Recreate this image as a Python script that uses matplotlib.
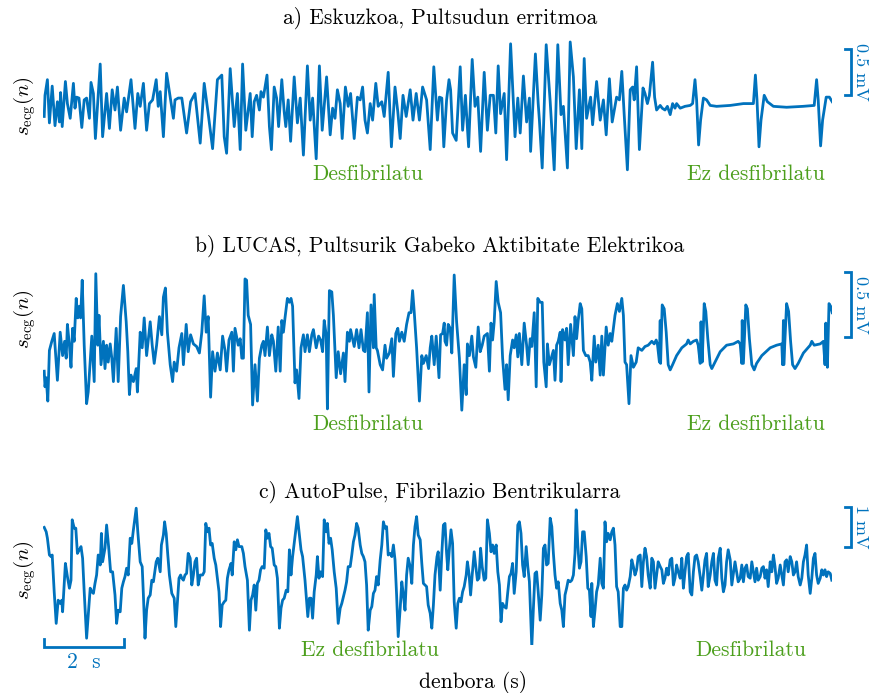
import matplotlib
matplotlib.use("Agg")
import matplotlib.pyplot as plt

# ---- data: time (s) and amplitude (mV) ----
ta = [0.03, 0.05, 0.11, 0.16, 0.23, 0.30, 0.36, 0.41, 0.44, 0.48, 0.56, 0.61, 0.68, 0.76, 0.80, 0.84,
      0.90, 0.97, 1.03, 1.09, 1.16, 1.20, 1.26, 1.31, 1.43, 1.49, 1.59, 1.66, 1.73, 1.80, 1.86, 1.94,
      2.03, 2.09, 2.20, 2.30, 2.37, 2.43, 2.51, 2.59, 2.66, 2.74, 2.83, 2.88, 2.93, 3.01, 3.09, 3.18,
      3.26, 3.30, 3.38, 3.47, 3.59, 3.69, 3.80, 3.93, 4.03, 4.13, 4.24, 4.36, 4.47, 4.53, 4.59, 4.68,
      4.78, 4.86, 4.93,
      4.99, 5.07, 5.18, 5.23, 5.28, 5.34, 5.41, 5.45, 5.51, 5.60, 5.66, 5.71, 5.78, 5.84, 5.89, 5.97,
      6.03, 6.07, 6.13, 6.19, 6.28, 6.36, 6.43, 6.51, 6.61, 6.68, 6.74, 6.83, 6.91, 6.98, 7.09, 7.18,
      7.24, 7.30, 7.36, 7.43, 7.48, 7.56, 7.63, 7.69, 7.78, 7.86, 7.93, 7.99, 8.05, 8.11, 8.18, 8.24,
      8.32, 8.38, 8.47, 8.53, 8.63, 8.71, 8.80, 8.87, 8.93, 9.00, 9.08, 9.18, 9.25, 9.33, 9.41, 9.49,
      9.59, 9.68, 9.77,
      9.86, 9.91, 9.97, 10.02, 10.09, 10.15, 10.19, 10.24, 10.33, 10.43, 10.49, 10.56, 10.64, 10.73,
      10.80, 10.87, 10.94, 11.03, 11.11, 11.18, 11.26, 11.32, 11.38, 11.44, 11.53, 11.59, 11.69, 11.80,
      11.87, 11.93, 12.01, 12.09, 12.16, 12.19, 12.31, 12.38, 12.41, 12.48, 12.58, 12.68, 12.78, 12.87,
      12.95, 13.01, 13.11, 13.18, 13.26, 13.33, 13.41, 13.47, 13.53, 13.59, 13.69, 13.74, 13.84, 13.93,
      14.01, 14.08, 14.16, 14.23, 14.34, 14.41, 14.47, 14.53, 14.61, 14.68, 14.74, 14.78, 14.84, 14.91,
      15.00, 15.05, 15.11, 15.16, 15.24, 15.29, 15.34, 15.43, 15.48, 15.55, 15.61, 15.68, 15.74, 15.80,
      15.84, 15.93, 16.05, 16.18, 16.24, 16.30, 16.34, 16.39, 16.44, 16.51, 16.59, 16.68, 16.84, 17.18,
      17.51, 17.76, 17.81, 17.85, 17.90, 17.95, 18.03, 18.11, 18.26, 18.59, 19.00, 19.28, 19.34, 19.38,
      19.44, 19.49, 19.58, 19.66, 19.73]
va = [-0.07, 0.16, 0.33, -0.14, 0.26, -0.17, 0.09, -0.13, 0.19, -0.18, 0.31, 0.07, -0.09, 0.29, 0.02, 0.14,
      0.13, -0.19, 0.11, 0.13, -0.09, 0.30, 0.18, -0.31, 0.50, -0.29, 0.18, -0.20, 0.22, 0.00, 0.25, -0.22,
      0.13, -0.02, 0.33, -0.20, 0.18, 0.04, 0.29, -0.22, 0.07, 0.11, 0.33, 0.04, 0.20, -0.29, 0.40, 0.14,
      -0.09, 0.11, 0.13, 0.13, -0.25, 0.09, 0.18, -0.36, 0.29, -0.04, -0.42, 0.33, 0.38, -0.29, -0.47, 0.45,
      -0.18, 0.18, -0.43,
      0.50, -0.22, 0.18, -0.29, 0.09, 0.16, 0.00, 0.20, 0.14, 0.38, -0.18, -0.43, 0.25, 0.13, -0.18, 0.33,
      -0.02, -0.18, 0.11, -0.34, 0.36, -0.14, 0.13, -0.49, 0.48, -0.11, 0.13, -0.53, 0.48, -0.22, 0.36, -0.27,
      0.02, -0.09, 0.22, 0.07, -0.31, 0.25, 0.04, 0.18, -0.31, 0.14, 0.11, 0.25, -0.11, -0.25, 0.07, -0.11,
      0.29, 0.04, 0.09, -0.07, 0.41, -0.40, 0.25, -0.02, -0.31, 0.16, -0.07, 0.22, -0.11, 0.18, -0.11, 0.25,
      0.11, -0.43, 0.47,
      -0.11, 0.14, 0.13, -0.40, 0.11, 0.33, 0.22, -0.25, -0.33, 0.47, -0.22, 0.16, -0.40, 0.55,
      0.04, 0.14, -0.45, 0.41, -0.22, 0.16, 0.16, -0.25, 0.48, -0.04, 0.18, -0.54, 0.72, -0.29,
      0.13, -0.25, 0.37, -0.13, 0.13, -0.45, 0.61, 0.07, -0.11, -0.63, 0.71, 0.09, -0.65, 0.71,
      -0.05, 0.04, -0.63, 0.74, 0.36, -0.42, 0.22, -0.42, 0.56, -0.09, 0.14, -0.16, 0.31, -0.11,
      0.11, -0.27, 0.34, -0.13, 0.14, 0.11, 0.42, -0.05, -0.65, 0.22, 0.25, 0.11, 0.47, -0.43,
      0.24, 0.18, 0.07, 0.16, 0.52, 0.14, 0.00, 0.05, 0.02, 0.00, 0.04, -0.05, 0.07, 0.02,
      0.07, 0.02, 0.04, 0.05, 0.07, 0.33, 0.11, -0.38, -0.11, 0.13, 0.11, 0.05, 0.04, 0.05,
      0.07, 0.07, 0.38, 0.11, -0.40, -0.11, 0.16, 0.09, 0.04, 0.03, 0.04, 0.05, 0.33, 0.11,
      -0.39, -0.11, 0.14, 0.14, 0.09]

tb = [0.03, 0.05, 0.08, 0.12, 0.16, 0.22, 0.28, 0.36, 0.43, 0.49, 0.54, 0.58, 0.61, 0.66, 0.70, 0.74,
      0.78, 0.83, 0.87, 0.91, 0.94, 0.98, 1.03, 1.09, 1.13, 1.15, 1.22, 1.28, 1.32, 1.37, 1.40, 1.45,
      1.51, 1.55, 1.59, 1.63, 1.68, 1.72, 1.76, 1.83, 1.88, 1.94, 2.01, 2.08, 2.12, 2.16, 2.20, 2.26,
      2.33, 2.36, 2.43, 2.48, 2.53, 2.59, 2.68, 2.73, 2.78, 2.84, 2.91, 2.97, 3.01, 3.06, 3.11, 3.18,
      3.24, 3.28, 3.34, 3.40, 3.47, 3.51, 3.58, 3.63, 3.69, 3.76, 3.84, 3.91, 3.97, 4.03, 4.08, 4.13,
      4.19, 4.24, 4.30, 4.36, 4.43, 4.49, 4.55, 4.59, 4.65, 4.72, 4.76, 4.80, 4.88,
      4.93, 4.97, 5.01, 5.05, 5.09, 5.13, 5.19, 5.24, 5.30, 5.36, 5.41, 5.47, 5.51, 5.55, 5.61, 5.66,
      5.72, 5.76, 5.82, 5.88, 5.93, 5.97, 6.01, 6.05, 6.11, 6.16, 6.20, 6.24, 6.30, 6.34, 6.40, 6.45,
      6.51, 6.55, 6.61, 6.66, 6.72, 6.76, 6.83, 6.89, 6.94, 6.99, 7.03, 7.08, 7.11, 7.16, 7.22, 7.26,
      7.33, 7.38, 7.44, 7.51, 7.55, 7.61, 7.66, 7.69, 7.78, 7.84, 7.90, 7.95, 8.01, 8.05, 8.11, 8.15,
      8.20, 8.26, 8.28, 8.33, 8.36, 8.43, 8.49, 8.55, 8.59, 8.66, 8.72, 8.76, 8.82, 8.87, 8.91, 8.97,
      9.03, 9.09, 9.15, 9.20, 9.24, 9.28, 9.34, 9.41, 9.47, 9.51, 9.58, 9.64, 9.68, 9.72, 9.78, 9.83,
      9.90, 9.94, 9.99, 10.03, 10.05, 10.09, 10.13, 10.18, 10.22, 10.28, 10.34, 10.41, 10.47, 10.53,
      10.58, 10.61, 10.66, 10.72, 10.76, 10.82, 10.88, 10.93, 10.98, 11.03, 11.11, 11.16, 11.20, 11.24,
      11.28, 11.33, 11.38, 11.44, 11.49, 11.55, 11.59, 11.63, 11.68, 11.74, 11.78, 11.83, 11.87, 11.91,
      11.97, 12.03, 12.09, 12.13, 12.18, 12.22, 12.28, 12.33, 12.37, 12.43, 12.48, 12.52, 12.58, 12.61,
      12.66, 12.76, 12.80, 12.84, 12.88, 12.93, 12.95, 12.99, 13.05, 13.09, 13.13, 13.19, 13.26, 13.30,
      13.34, 13.38, 13.43, 13.47, 13.51, 13.57, 13.63, 13.68, 13.72, 13.78, 13.82, 13.88, 13.93, 13.97,
      14.01, 14.08, 14.13, 14.18, 14.22, 14.30, 14.36, 14.41, 14.47, 14.51, 14.55, 14.59, 14.65, 14.70,
      14.76, 14.83, 14.88,
      14.97, 15.05, 15.13, 15.22, 15.28, 15.33, 15.36, 15.41, 15.43, 15.44, 15.48, 15.53, 15.58, 15.63,
      15.68, 15.74, 15.84, 15.97, 16.09, 16.13, 16.18, 16.26, 16.34, 16.38, 16.43, 16.45, 16.48, 16.53,
      16.57, 16.62, 16.68, 16.72, 16.80, 16.93, 17.09, 17.26, 17.38, 17.43, 17.47, 17.48, 17.51, 17.57,
      17.61, 17.66, 17.72, 17.78, 17.84, 17.97, 18.18, 18.34, 18.47, 18.49, 18.51, 18.52, 18.59, 18.64,
      18.69, 18.74, 18.80, 18.88, 19.01, 19.18, 19.22, 19.28, 19.43, 19.51, 19.55, 19.57, 19.61, 19.65,
      19.69, 19.73]
vb = [-0.24, -0.36, -0.29, -0.47, -0.08, -0.01, 0.05, -0.31, 0.06, -0.12, -0.01, -0.14, 0.12, -0.04, -0.21, 0.09,
      -0.01, 0.32, 0.17, 0.26, 0.17, 0.46, -0.04, -0.49, -0.40, -0.31, 0.03, -0.32, 0.51, -0.04, 0.19, -0.19,
      -0.01, -0.22, -0.04, -0.17, -0.03, -0.14, -0.32, 0.09, -0.32, 0.18, 0.42, 0.14, -0.09, -0.42, -0.27, -0.32,
      -0.22, -0.40, 0.06, -0.06, 0.17, -0.12, 0.14, -0.04, -0.18, -0.04, 0.18, 0.04, 0.33, 0.40, 0.06, -0.19,
      -0.32, -0.17, -0.24, -0.06, 0.05, -0.19, 0.12, -0.09, 0.04, -0.03, -0.05, -0.10, 0.06, 0.34, 0.06, 0.18,
      -0.44, -0.09, -0.24, -0.10, -0.23, 0.03, -0.08, -0.24, 0.00, 0.06, -0.24, 0.09, -0.04,
      0.01, -0.14, -0.14, 0.47, 0.46, 0.19, 0.12, -0.50, -0.19, -0.47, -0.14, -0.04, -0.01, -0.12, 0.10, -0.12,
      0.04, -0.01, -0.24, 0.10, -0.24, 0.15, 0.06, 0.17, 0.32, 0.29, 0.32, 0.26, -0.33, -0.23, -0.45, -0.06,
      0.04, -0.09, 0.04, -0.09, 0.04, 0.08, -0.06, 0.03, 0.00, -0.09, 0.15, 0.04, -0.53, 0.38, 0.37, 0.19,
      -0.29, -0.09, -0.26, -0.10, -0.32, 0.06, -0.01, 0.08, -0.05, 0.08, -0.06, 0.08, -0.08, -0.09, 0.21, -0.40,
      0.27, -0.06, 0.35, -0.06, -0.08, -0.19, -0.23, -0.04, -0.14, -0.10, 0.01, -0.28, 0.05, 0.09, -0.01, 0.06,
      -0.01, 0.12, 0.21, 0.21, 0.38, 0.22, -0.06, -0.47, -0.12, -0.18, -0.12, -0.22, -0.06, 0.03, -0.19, 0.03,
      -0.29, 0.04, 0.05, 0.13, -0.01, -0.04, 0.12, 0.09, -0.10, 0.50, 0.14, -0.14, -0.54, -0.19,
      -0.42, -0.03, -0.12, 0.03, -0.13, -0.21, 0.10, -0.09, -0.04, 0.03, 0.05, -0.24, 0.13, 0.00,
      0.14, 0.45, 0.29, 0.21, -0.14, -0.38, -0.19, -0.46, -0.12, 0.00, -0.06, 0.04, -0.13, 0.05,
      -0.19, 0.13, -0.04, -0.19, 0.01, -0.05, 0.21, -0.36, 0.32, 0.29, 0.29, -0.17, -0.36, -0.03,
      -0.19, -0.08, -0.31, -0.04, -0.01, 0.06, -0.32, 0.08, 0.00, 0.09, -0.19, 0.12, -0.12, 0.18,
      0.01, 0.15, 0.28, 0.24, -0.08, -0.12, -0.12, -0.17, -0.31, 0.03, -0.17, -0.04, -0.27, 0.03,
      -0.27, 0.10, -0.04, 0.05, -0.01, 0.19, 0.28, 0.22, 0.32, 0.19, -0.17, -0.19, -0.49, -0.12,
      -0.21, -0.17, -0.06,
      -0.08, -0.05, -0.04, -0.01, -0.03, 0.00, -0.03, -0.17, 0.15, -0.18, 0.27, 0.24, 0.06, -0.19,
      -0.23, -0.19, -0.12, -0.06, -0.03, 0.00, -0.03, -0.01, 0.00, -0.04, -0.18, 0.14, -0.17, 0.28,
      0.22, 0.01, -0.19, -0.22, -0.17, -0.09, -0.04, -0.03, -0.01, -0.03, -0.18, 0.15, -0.18, 0.27,
      0.24, 0.01, -0.19, -0.23, -0.18, -0.12, -0.06, -0.04, -0.03, -0.19, 0.15, -0.19, 0.28, 0.22,
      -0.01, -0.19, -0.22, -0.18, -0.10, -0.04, -0.01, -0.04, -0.03, -0.01, -0.19, 0.13, -0.21, 0.28,
      0.26, 0.21]

tc = [0.03, 0.08, 0.11, 0.16, 0.20, 0.23, 0.28, 0.33, 0.38, 0.43, 0.47, 0.49, 0.56, 0.61, 0.66, 0.70,
      0.73, 0.78, 0.82, 0.86, 0.91, 0.95, 0.99, 1.03, 1.09, 1.14, 1.18, 1.22, 1.26, 1.30, 1.34, 1.38,
      1.43, 1.46, 1.49, 1.55, 1.59, 1.64, 1.69, 1.74, 1.80, 1.84, 1.88, 1.93, 1.97, 2.01, 2.05, 2.09,
      2.13, 2.18, 2.22, 2.26, 2.33, 2.37, 2.43, 2.48, 2.51, 2.55, 2.59, 2.63, 2.68, 2.72, 2.76, 2.83,
      2.87, 2.93, 2.96, 3.01, 3.04, 3.08, 3.12, 3.16, 3.22, 3.28, 3.32, 3.36, 3.40, 3.44, 3.47, 3.51,
      3.55, 3.59, 3.63, 3.68, 3.72, 3.76, 3.80, 3.84, 3.88, 3.93, 3.99, 4.03, 4.07, 4.11, 4.15, 4.19,
      4.23, 4.28, 4.32, 4.36, 4.40, 4.44, 4.48, 4.53, 4.57, 4.61, 4.65, 4.70, 4.73, 4.78, 4.82, 4.86,
      4.90,
      4.97, 5.01, 5.05, 5.11, 5.16, 5.20, 5.24, 5.28, 5.32, 5.36, 5.40, 5.44, 5.48, 5.53, 5.57, 5.61,
      5.65, 5.69, 5.73, 5.78, 5.82, 5.86, 5.91, 5.95, 5.99, 6.03, 6.08, 6.12, 6.16, 6.20, 6.24, 6.30,
      6.36, 6.41, 6.45, 6.49, 6.55, 6.62, 6.66, 6.70, 6.74, 6.78, 6.83, 6.86, 6.90, 6.94, 6.99, 7.03,
      7.08, 7.11, 7.15, 7.19, 7.23, 7.28, 7.33, 7.38, 7.43, 7.47, 7.51, 7.55, 7.59, 7.63, 7.68, 7.72,
      7.76, 7.80, 7.84, 7.88, 7.93, 7.97, 8.01, 8.05, 8.09, 8.13, 8.18, 8.22, 8.26, 8.30, 8.34, 8.38,
      8.43, 8.47, 8.51, 8.55, 8.59, 8.63, 8.68, 8.72, 8.76, 8.80, 8.84, 8.88, 8.93, 8.97, 9.01, 9.05,
      9.09, 9.13, 9.18, 9.22, 9.26, 9.30, 9.34, 9.38, 9.43, 9.47, 9.51, 9.55, 9.59, 9.63, 9.68, 9.72,
      9.76, 9.80, 9.85, 9.88,
      9.93, 9.97, 10.01, 10.05, 10.09, 10.12, 10.16, 10.20, 10.24, 10.28, 10.33, 10.37, 10.41, 10.45,
      10.49, 10.53, 10.58, 10.61, 10.65, 10.69, 10.73, 10.78, 10.82, 10.86, 10.90, 10.94, 10.98, 11.03,
      11.07, 11.11, 11.16, 11.20, 11.24, 11.28, 11.33, 11.37, 11.41, 11.45, 11.49, 11.53, 11.58, 11.62,
      11.66, 11.70, 11.74, 11.78, 11.83, 11.87, 11.91, 11.95, 11.99, 12.03, 12.08, 12.12, 12.16, 12.22,
      12.26, 12.30, 12.34, 12.38, 12.43, 12.47, 12.51, 12.55, 12.59, 12.63, 12.68, 12.72, 12.76, 12.80,
      12.84, 12.88, 12.93, 12.97, 13.01, 13.05, 13.09, 13.13, 13.18, 13.22, 13.26, 13.30, 13.33, 13.37,
      13.41, 13.45, 13.49, 13.53, 13.58, 13.62, 13.66, 13.70, 13.72, 13.76, 13.80, 13.84, 13.88, 13.93,
      13.97, 14.01, 14.05, 14.09, 14.13, 14.18, 14.22, 14.26, 14.30, 14.34, 14.38, 14.43, 14.47, 14.51,
      14.55, 14.59, 14.63, 14.68, 14.72, 14.76, 14.80, 14.84, 14.88,
      14.93, 14.97, 15.01, 15.05, 15.09, 15.13, 15.18, 15.22, 15.26, 15.30, 15.34, 15.38, 15.43, 15.47,
      15.51, 15.55, 15.59, 15.63, 15.68, 15.72, 15.76, 15.80, 15.84, 15.88, 15.93, 15.97, 16.01, 16.05,
      16.09, 16.13, 16.18, 16.22, 16.26, 16.30, 16.34, 16.38, 16.43, 16.47, 16.51, 16.55, 16.59, 16.63,
      16.68, 16.72, 16.76, 16.80, 16.84, 16.88, 16.93, 16.97, 17.01, 17.05, 17.09, 17.13, 17.18, 17.22,
      17.26, 17.30, 17.34, 17.38, 17.43, 17.47, 17.51, 17.55, 17.59, 17.63, 17.68, 17.72, 17.76, 17.80,
      17.84, 17.88, 17.93, 17.97, 18.01, 18.05, 18.09, 18.13, 18.18, 18.22, 18.26, 18.30, 18.34, 18.38,
      18.43, 18.47, 18.51, 18.55, 18.59, 18.63, 18.68, 18.72, 18.76, 18.80, 18.84, 18.88, 18.93, 18.97,
      19.01, 19.05, 19.09, 19.13, 19.18, 19.22, 19.26, 19.30, 19.34, 19.38, 19.43, 19.47, 19.51, 19.55,
      19.59, 19.63, 19.68, 19.72]
vc = [1.19, 1.08, 0.92, 0.50, 0.46, 0.50, -0.42, -1.21, -0.63, -0.71, -0.63, -0.92, 0.29, -0.04, -0.33, -0.13,
      1.38, 1.17, 1.17, 0.54, 0.63, 0.71, 0.42, -0.42, -1.58, -0.88, -0.33, -0.42, -0.46, -0.21, 0.00, 0.50,
      0.25, 1.04, 0.33, 0.67, 1.25, 0.71, 0.08, 0.08, -0.50, -1.21, -0.88, -0.92, -0.33, -0.17, -0.04, 0.17,
      0.00, 0.92, 0.79, 1.13, 1.67, 1.08, 0.33, 0.21, -0.50, -1.58, -0.88, -0.58, -0.50, -0.13, -0.17, 0.33,
      0.42, 0.08, 0.75, 1.00, 1.33, 1.04, 0.50, 0.00, -0.46, -0.58, -1.29, -0.67, -0.08, 0.00, -0.08, -0.13,
      0.00, 0.04, 0.54, 0.42, -0.25, 0.00, 0.33, 0.42, -0.25, 0.00, 0.00, 0.08, 1.29, 1.08, 1.17, 0.75,
      0.79, 0.42, 0.25, -0.08, -0.42, -1.29, -0.75, -0.67, -0.63, -0.08, 0.13, 0.29, 0.00, 0.83, 0.63, 0.88,
      0.71,
      0.71, 0.54, 0.21, -0.13, -1.38, -0.63, -0.50, -0.25, -0.88, -0.21, -0.13, 0.13, 0.21, 0.17, 1.13, 0.92,
      1.04, 0.71, 0.67, 0.25, 0.21, -0.08, -1.33, -0.83, -0.63, -0.58, -0.38, -0.42, 0.63, 0.00, 0.46, 0.96,
      1.46, 1.00, 0.63, 0.46, -0.13, -1.04, -0.58, -0.58, -1.08, -0.42, 0.00, 0.46, -0.08, 0.08, -0.04, 1.38,
      1.08, 1.29, 0.79, 0.92, 0.63, 0.08, -0.33, -1.21, -0.83, -0.71, -0.54, -0.38, -0.17, 0.21, 0.21, 0.50,
      0.83, 1.00, 1.29, 1.17, 0.75, 0.54, 0.46, 0.33, -0.25, -1.38, -0.88, -0.79, -0.46, -0.38, -0.04, -0.25,
      0.38, 0.75, 1.33, 1.17, 1.21, 0.50, 0.54, 0.46, 0.75, 0.38, -0.50, -1.54, -0.83, -0.17, -0.50, -0.88,
      0.00, 0.42, 0.21, -0.21, 0.75, 1.21, 1.46, 1.00, 0.88, 0.29, -0.21, -0.25, -0.29, -0.75, -0.96, -1.33,
      -0.75, 0.00, 0.46, 0.58,
      -0.38, 0.54, 1.25, 1.29, 0.54, 0.13, 0.67, 1.13, 0.79, -0.67, -1.33, -0.71, -0.58, -0.67,
      -0.42, -0.29, 0.00, 0.33, 0.04, -0.50, 0.00, 0.58, 0.21, -0.13, -0.08, 0.67, 0.21, -0.13,
      -0.08, 1.38, 1.04, 0.58, 0.75, 0.54, 0.75, 0.08, -0.25, -1.17, -0.71, -0.79, -0.83, -0.42,
      -0.04, 0.04, 0.29, -0.46, 0.08, 1.25, 1.33, 1.04, 0.25, -0.04, 0.71, 0.21, -0.17, -1.79,
      -0.83, 0.04, 0.08, -0.42, -1.13, -0.50, 0.67, 0.75, 0.25, 0.29, 1.42, 1.21, 0.54, 0.00,
      -0.33, -0.17, -0.71, -0.88, -1.29, -0.50, -0.33, -0.13, -0.17, -0.13, 0.00, 0.54, 1.63, 0.75,
      0.17, 0.33, 1.08, 1.08, 0.46, -0.33, -0.38, -1.04, -0.21, -1.29, -0.88, -0.42, -0.25, 0.42,
      -0.21, -0.33, 1.33, 0.83, 1.04, 0.88, 1.08, 1.17, 0.75, -0.29, -0.42, -1.29, -1.29, -0.33,
      -0.25, -0.38, -0.29, -0.04, 0.38, 0.21, 0.00, 0.13, 0.46,
      0.50, -0.29, 0.33, 0.67, 0.46, 0.00, -0.33, 0.42, 0.33, -0.33, 0.00, 0.33, 0.21, 0.13,
      -0.21, -0.08, 0.17, 0.00, 0.38, 0.42, -0.25, -0.08, 0.25, 0.08, -0.08, 0.42, -0.33, 0.08,
      0.46, 0.54, -0.42, -0.50, 0.08, 0.46, 0.50, 0.33, -0.04, -0.38, 0.00, 0.38, 0.54, -0.29,
      0.00, 0.33, 0.54, -0.13, -0.25, 0.42, 0.67, -0.08, -0.42, -0.25, 0.33, 0.63, 0.38, -0.25,
      0.04, 0.33, 0.08, -0.17, -0.08, 0.25, -0.17, 0.17, 0.25, -0.04, -0.08, 0.33, 0.08, -0.17,
      0.17, -0.13, -0.04, 0.17, 0.21, -0.08, 0.13, -0.29, 0.33, 0.08, 0.50, 0.21, -0.21, -0.08,
      0.25, 0.00, -0.25, 0.33, 0.38, 0.08, 0.46, 0.33, 0.00, 0.08, 0.33, -0.04, -0.25, -0.08,
      0.33, 0.50, 0.75, 0.00, -0.46, -0.08, 0.42, 0.54, 0.00, -0.21, -0.08, 0.13, 0.00, 0.13,
      -0.04, 0.08, 0.04, -0.13]

titles = ["a) Eskuzkoa, Pultsudun erritmoa",
          "b) LUCAS, Pultsurik Gabeko Aktibitate Elektrikoa",
          "c) AutoPulse, Fibrilazio Bentrikularra"]
left_labels = ["Desfibrilatu", "Desfibrilatu", "Ez desfibrilatu"]
right_labels = ["Ez desfibrilatu", "Ez desfibrilatu", "Desfibrilatu"]
scale_mv = [0.5, 0.5, 1.0]
scale_text = ["0.5 mV", "0.5 mV", "1 mV"]

BLUE = "#0072BD"
GREEN = "#4C9F1C"

plt.rcParams["font.family"] = "serif"
plt.rcParams["font.serif"] = ["cmr10"]
plt.rcParams["mathtext.fontset"] = "cm"
plt.rcParams["axes.unicode_minus"] = False
plt.rcParams["axes.formatter.use_mathtext"] = True

W, H = 872, 693
fig = plt.figure(figsize=(W / 100, H / 100), dpi=100)


def frac(x, y):
    return x / W, 1 - y / H


def add_axes(top, bottom):
    l, b = frac(43, bottom)
    return fig.add_axes([l, b, 789 / W, (bottom - top) / H])


# panel boxes in pixels and y-limits (mV)
boxes = [(38, 178), (265, 415), (500, 645)]
ylims = [(-0.739, 0.783), (-0.577, 0.577), (-1.75, 1.875)]
bar_bottom = [0.16, 0.02, 0.70]
series = [(ta, va), (tb, vb), (tc, vc)]
title_y = [18, 246, 492]
green_y = [174, 424, 650]
ylab_y = [106, 319, 570]
green_x = [(368, 756), (368, 756), (370, 751)]
bar_label_y = [72, 305, 527]

FS = 15.5

for i in range(3):
    ax = add_axes(*boxes[i])
    t, v = series[i]
    ax.plot(t, v, color=BLUE, lw=2.0, solid_joinstyle="round")
    ax.set_xlim(0, 19.725)
    ax.set_ylim(*ylims[i])
    ax.axis("off")

    # amplitude scale bar
    b0 = bar_bottom[i]
    b1 = b0 + scale_mv[i]
    ax.plot([20.05, 20.19, 20.19, 20.05], [b1, b1, b0, b0], color=BLUE, lw=2.0,
            clip_on=False, solid_joinstyle="miter")
    fig.text(*frac(861, bar_label_y[i]), scale_text[i], color=BLUE, fontsize=13,
             rotation=-90, ha="center", va="center")

    fig.text(*frac(440, title_y[i]), titles[i], fontsize=FS, ha="center", va="center")
    fig.text(*frac(25, ylab_y[i]), r"$s_{\mathrm{ecg}}(n)$", fontsize=15,
             rotation=90, ha="center", va="center")
    fig.text(*frac(green_x[i][0], green_y[i]), left_labels[i], color=GREEN,
             fontsize=FS, ha="center", va="center")
    fig.text(*frac(green_x[i][1], green_y[i]), right_labels[i], color=GREEN,
             fontsize=FS, ha="center", va="center")

    if i == 2:
        # 2 s time scale bar
        ax.plot([0.03, 0.03, 2.03, 2.03], [-1.60, -1.79, -1.79, -1.60], color=BLUE,
                lw=2.0, clip_on=False, solid_joinstyle="miter")

fig.text(*frac(84, 662), "2  s", color=BLUE, fontsize=FS, ha="center", va="center")
fig.text(*frac(473, 683), "denbora (s)", fontsize=FS, ha="center", va="center")

fig.savefig("out.png", dpi=100)
